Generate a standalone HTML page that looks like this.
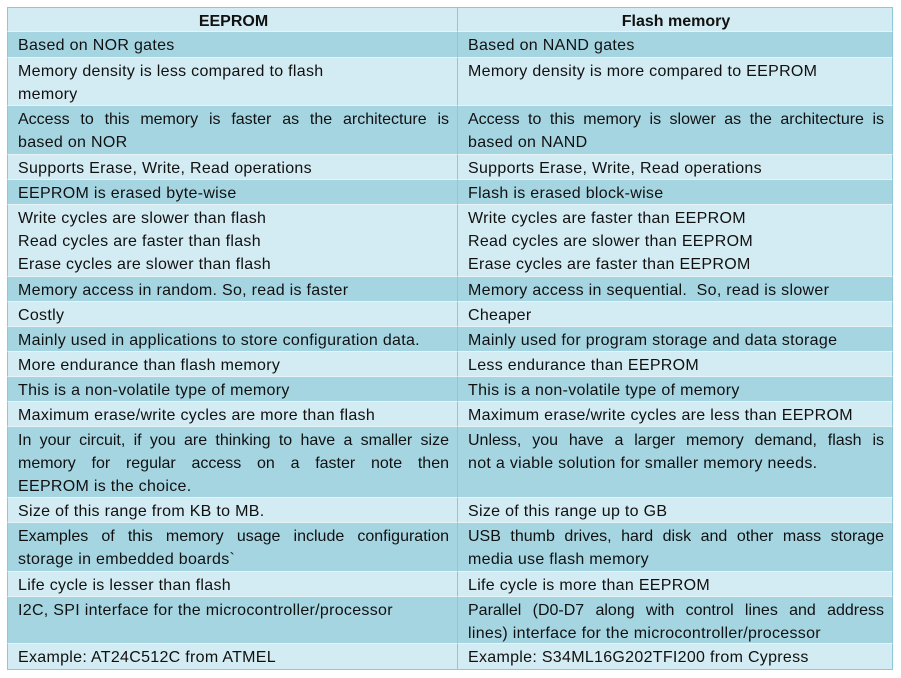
<!DOCTYPE html>
<html><head><meta charset="utf-8"><style>
html,body{margin:0;padding:0;background:#fff;width:901px;height:678px;overflow:hidden}
body{font-family:"Liberation Sans",sans-serif;font-size:16px;letter-spacing:0.3px;color:#111}
.r{position:absolute;left:7px;width:886px;display:flex;box-sizing:border-box}
.c{box-sizing:border-box;padding:2px 8px 0 10px;line-height:23px;height:100%;border-right:1px solid #8cc8d6;border-bottom:1px solid #e6f3f7;white-space:nowrap;overflow:hidden}
.c1{width:451px;border-left:1px solid #8cc8d6}
.c2{width:435px}
.d{background:#a6d5e2}.l{background:#d3ebf2}
.j{text-align:justify;text-align-last:justify;letter-spacing:0}
.h{font-weight:bold;text-align:center;letter-spacing:0}
</style></head><body>
<div class="r l" style="top:7px;height:25px;border-top:1px solid #8cc8d6"><div class="c c1 h">EEPROM</div><div class="c c2 h">Flash memory</div></div>
<div class="r d" style="top:32px;height:26px"><div class="c c1">Based on NOR gates</div><div class="c c2">Based on NAND gates</div></div>
<div class="r l" style="top:58px;height:48px"><div class="c c1">Memory density is less compared to flash<br>memory</div><div class="c c2">Memory density is more compared to EEPROM</div></div>
<div class="r d" style="top:106px;height:49px"><div class="c c1"><div class="j">Access to this memory is faster as the architecture is</div><div>based on NOR</div></div><div class="c c2"><div class="j">Access to this memory is slower as the architecture is</div><div>based on NAND</div></div></div>
<div class="r l" style="top:155px;height:25px"><div class="c c1">Supports Erase, Write, Read operations</div><div class="c c2">Supports Erase, Write, Read operations</div></div>
<div class="r d" style="top:180px;height:25px"><div class="c c1">EEPROM is erased byte-wise</div><div class="c c2">Flash is erased block-wise</div></div>
<div class="r l" style="top:205px;height:72px"><div class="c c1">Write cycles are slower than flash<br>Read cycles are faster than flash<br>Erase cycles are slower than flash</div><div class="c c2">Write cycles are faster than EEPROM<br>Read cycles are slower than EEPROM<br>Erase cycles are faster than EEPROM</div></div>
<div class="r d" style="top:277px;height:25px"><div class="c c1">Memory access in random. So, read is faster</div><div class="c c2">Memory access in sequential.&nbsp; So, read is slower</div></div>
<div class="r l" style="top:302px;height:25px"><div class="c c1">Costly</div><div class="c c2">Cheaper</div></div>
<div class="r d" style="top:327px;height:25px"><div class="c c1">Mainly used in applications to store configuration data.</div><div class="c c2">Mainly used for program storage and data storage</div></div>
<div class="r l" style="top:352px;height:25px"><div class="c c1">More endurance than flash memory</div><div class="c c2">Less endurance than EEPROM</div></div>
<div class="r d" style="top:377px;height:25px"><div class="c c1">This is a non-volatile type of memory</div><div class="c c2">This is a non-volatile type of memory</div></div>
<div class="r l" style="top:402px;height:25px"><div class="c c1">Maximum erase/write cycles are more than flash</div><div class="c c2">Maximum erase/write cycles are less than EEPROM</div></div>
<div class="r d" style="top:427px;height:71px"><div class="c c1"><div class="j">In your circuit, if you are thinking to have a smaller size</div><div class="j">memory for regular access on a faster note then</div><div>EEPROM is the choice.</div></div><div class="c c2"><div class="j">Unless, you have a larger memory demand, flash is</div><div>not a viable solution for smaller memory needs.</div></div></div>
<div class="r l" style="top:498px;height:25px"><div class="c c1">Size of this range from KB to MB.</div><div class="c c2">Size of this range up to GB</div></div>
<div class="r d" style="top:523px;height:49px"><div class="c c1"><div class="j">Examples of this memory usage include configuration</div><div>storage in embedded boards`</div></div><div class="c c2"><div class="j">USB thumb drives, hard disk and other mass storage</div><div>media use flash memory</div></div></div>
<div class="r l" style="top:572px;height:25px"><div class="c c1">Life cycle is lesser than flash</div><div class="c c2">Life cycle is more than EEPROM</div></div>
<div class="r d" style="top:597px;height:47px"><div class="c c1">I2C, SPI interface for the microcontroller/processor</div><div class="c c2"><div class="j">Parallel (D0-D7 along with control lines and address</div><div>lines) interface for the microcontroller/processor</div></div></div>
<div class="r l" style="top:644px;height:26px"><div class="c c1" style="border-bottom-color:#8cc8d6">Example: AT24C512C from ATMEL</div><div class="c c2" style="border-bottom-color:#8cc8d6">Example: S34ML16G202TFI200 from Cypress</div></div>
</body></html>
